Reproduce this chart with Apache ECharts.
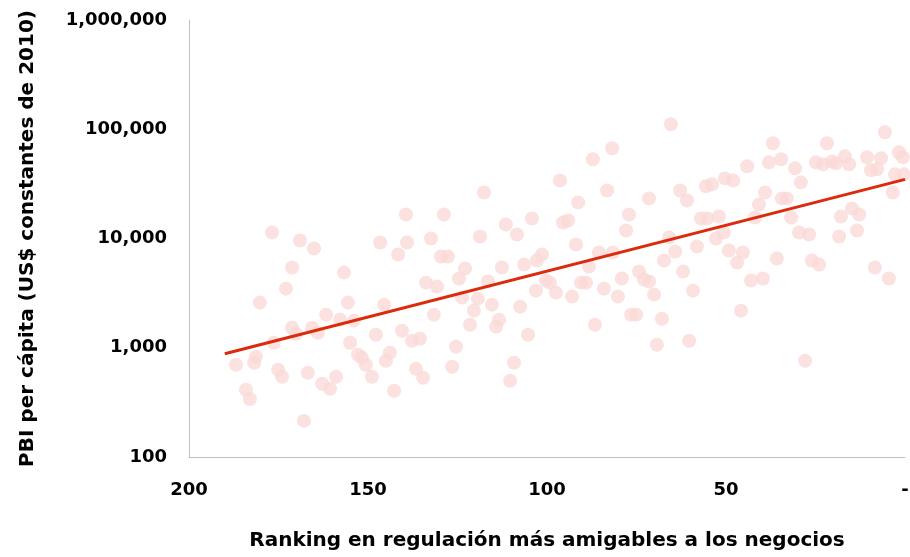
<!doctype html>
<html>
<head>
<meta charset="utf-8">
<title>PBI per cápita vs ranking</title>
<script src="https://cdn.jsdelivr.net/npm/echarts@6/dist/echarts.min.js"></script>
</head>
<body style="margin:0;background:#fff;">
<div id="container" style="width:910px;height:557px;"></div>
<script type="text/javascript">
    // ranking en regulacion (1 = mejor) y PBI per capita, un punto por pais
    var rankings = [
        176.8, 169.0, 165.1, 171.2, 156.7, 146.6, 139.4, 139.1, 141.6, 132.4,
        172.9, 180.2, 133.8, 155.6, 145.5, 161.7, 157.8, 153.9, 171.2, 170.1,
        165.6, 164.0, 176.3, 155.0, 147.8, 140.5, 137.7, 135.5, 131.6, 186.9,
        181.3, 181.8, 175.1, 174.0, 166.8, 152.8, 151.7, 150.6, 143.9, 145.0,
        148.9, 158.9, 162.8, 160.6, 142.7, 136.6, 134.6, 184.1, 183.0, 167.9,
        65.4, 81.8, 87.2, 96.4, 83.2, 117.6, 91.3, 71.5, 128.8, 77.1,
        104.2, 111.5, 108.4, 95.5, 94.1, 77.9, 118.7, 91.9, 129.6, 127.7,
        122.9, 124.6, 112.6, 106.4, 101.4, 102.8, 85.5, 81.6, 88.3, 74.3,
        65.9, 67.3, 130.7, 123.7, 119.3, 116.5, 120.4, 115.4, 121.5, 113.4,
        114.2, 107.5, 105.3, 103.1, 100.3, 99.2, 97.5, 93.0, 90.5, 89.1,
        84.1, 80.2, 79.1, 72.9, 71.5, 70.1, 76.5, 75.1, 67.9, 86.6,
        125.4, 126.5, 109.2, 110.3, 69.3,
        5.6, 36.9, 21.8, 38.0, 34.6, 24.9, 22.9, 20.4, 19.3, 16.8,
        15.6, 10.6, 6.7, 9.5, 7.8, 1.7, 0.6, 2.8, 0.3, 3.4,
        44.1, 30.7, 29.1, 50.3, 48.0, 55.6, 53.9, 62.8, 60.9, 39.1,
        40.8, 34.4, 33.0, 14.8, 12.8, 17.9, 31.8, 57.0, 55.3, 52.0,
        41.9, 29.6, 26.8, 18.4, 13.4, 52.8, 50.6, 58.1, 64.2, 49.2,
        45.3, 46.9, 35.8, 26.0, 24.0, 8.4, 62.0, 59.2, 43.0, 39.7,
        45.8, 60.3, 27.9, 4.5
    ];
    var pbi = [
        11350, 9600, 8090, 5420, 4875, 9190, 16600, 9190, 7130, 10000,
        3475, 2590, 3945, 2590, 2480, 2010, 1807, 1770, 1525, 1343,
        1525, 1373, 1112, 1112, 1315, 1432, 1159, 1210, 2010, 698,
        826, 728, 628, 542, 590, 862, 809, 698, 900, 760,
        542, 542, 468, 421, 404, 641, 531, 412, 340, 214,
        111000, 67000, 53100, 34000, 27540, 26400, 21400, 23280, 16600, 16600,
        15240, 13430, 10880, 14030, 14630, 11830, 10430, 8810, 6840, 6840,
        5310, 4300, 5420, 5770, 7130, 6280, 7450, 7450, 5540, 4980,
        10210, 6280, 3630, 2880, 2815, 4040, 2185, 2480, 1625, 1807,
        1560, 2377, 1315, 3333, 4120, 3945, 3197, 2940, 3945, 3945,
        3475, 2940, 4300, 4210, 4040, 3064, 2010, 2010, 1845, 1625,
        1021, 670, 728, 498, 1066,
        93800, 74500, 74500, 49800, 53100, 49800, 47750, 50800, 48750, 56500,
        47750, 55350, 54200, 42100, 42950, 61500, 55350, 38650, 38650, 26400,
        45800, 43850, 32650, 35500, 34000, 30000, 31300, 27540, 22320, 26400,
        20500, 23280, 23280, 18840, 16600, 15910, 15590, 15240, 15240, 15910,
        15590, 11350, 10880, 10430, 11830, 10000, 11350, 8450, 7600, 7760,
        7450, 6020, 6560, 6280, 5770, 5420, 4980, 3333, 4120, 4300,
        2185, 1159, 760, 4300
    ];
    // linea de tendencia exponencial (extremos)
    var trendRanks = [190, 0];
    var trendValues = [880, 34800];

    var points = [];
    for (var i = 0; i < rankings.length; i++) {
        points.push([rankings[i], pbi[i]]);
    }
    var trend = [];
    for (var j = 0; j < trendRanks.length; j++) {
        trend.push([trendRanks[j], trendValues[j]]);
    }

    var labelFont = { color: '#000', fontFamily: 'DejaVu Sans', fontWeight: 'bold', fontSize: 18 };
    var titleFont = { color: '#000', fontFamily: 'DejaVu Sans', fontWeight: 'bold', fontSize: 20 };

    var option = {
        animation: false,
        grid: { left: 189, right: 5, top: 20, bottom: 100, outerBoundsMode: 'none' },
        xAxis: {
            type: 'value',
            inverse: true,
            min: 0,
            max: 200,
            interval: 50,
            name: 'Ranking en regulación más amigables a los negocios',
            nameLocation: 'middle',
            nameGap: 74,
            nameTextStyle: titleFont,
            axisLine: { onZero: false, lineStyle: { color: '#bfbfbf', width: 1 } },
            axisTick: { show: false },
            splitLine: { show: false },
            axisLabel: Object.assign({
                margin: 24,
                formatter: function (v) { return v === 0 ? '-' : String(v); }
            }, labelFont)
        },
        yAxis: {
            type: 'log',
            logBase: 10,
            min: 100,
            max: 1000000,
            name: 'PBI per cápita (US$ constantes de 2010)',
            nameLocation: 'middle',
            nameGap: 151,
            nameRotate: 90,
            nameTextStyle: titleFont,
            axisLine: { show: true, onZero: false, lineStyle: { color: '#bfbfbf', width: 1 } },
            axisTick: { show: false },
            splitLine: { show: false },
            axisLabel: Object.assign({
                margin: 22,
                formatter: function (v) { return Math.round(v).toLocaleString('en-US'); }
            }, labelFont)
        },
        series: [
            {
                type: 'scatter',
                data: points,
                symbol: 'circle',
                symbolSize: 14,
                clip: false,
                itemStyle: { color: '#fadad7' },
                z: 2
            },
            {
                type: 'line',
                data: trend,
                symbol: 'none',
                lineStyle: { color: '#dc2a0c', width: 3 },
                z: 3
            }
        ]
    };

    var myChart = echarts.init(document.getElementById('container'));
    myChart.setOption(option);
</script>
</body>
</html>
